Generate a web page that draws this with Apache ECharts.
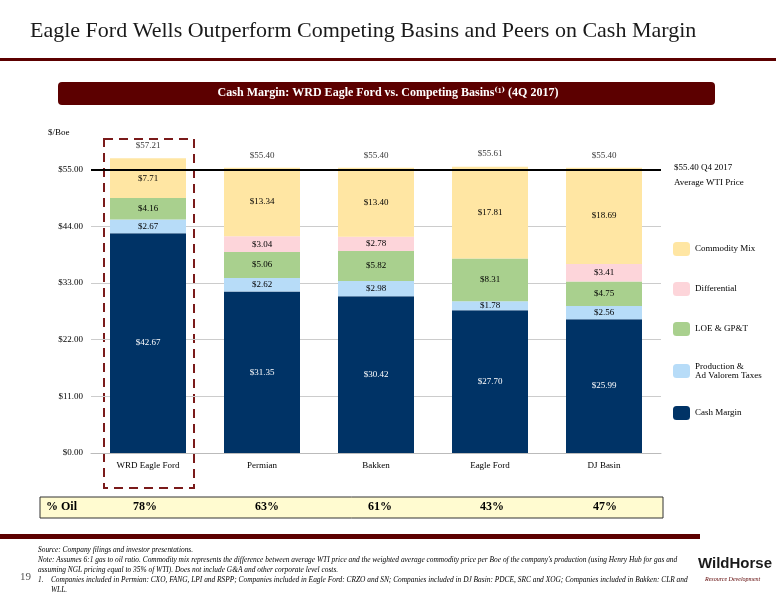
<!DOCTYPE html>
<html><head><meta charset="utf-8">
<script src="https://cdn.jsdelivr.net/npm/echarts@6/dist/echarts.min.js"></script>
<style>html,body{margin:0;background:#fff}#c{width:776px;height:600px}</style>
</head><body><div id="c"></div>
<script>
var categories = ['WRD Eagle Ford', 'Permian', 'Bakken', 'Eagle Ford', 'DJ Basin'];
var cashMargin = [42.67, 31.35, 30.42, 27.70, 25.99];
var prodTaxes = [2.67, 2.62, 2.98, 1.78, 2.56];
var loe = [4.16, 5.06, 5.82, 8.31, 4.75];
var differential = [0, 3.04, 2.78, 0, 3.41];
var commodityMix = [7.71, 13.34, 13.40, 17.81, 18.69];
var totals = [57.21, 55.40, 55.40, 55.61, 55.40];
var pctOil = ['78%', '63%', '61%', '43%', '47%'];
var wti = 55.0;

var serif = '"Liberation Serif", "DejaVu Serif", serif';
var chart = echarts.init(document.getElementById('c'));

function seg(name, data, color, txt) {
    return {
        name: name, type: 'bar', stack: 'a', data: data, barWidth: 76,
        itemStyle: {color: color},
        label: {
            show: true, position: 'inside', fontFamily: serif, fontSize: 9, color: txt,
            formatter: function (p) { return p.value ? '$' + p.value.toFixed(2) : ''; }
        }
    };
}

var oilTexts = pctOil.map(function (v, i) {
    return {type: 'text', left: [133, 255, 368, 480, 593][i], top: 501,
        style: {text: v, font: 'bold 12px ' + serif, fill: '#000'}};
});

var option = {
    animation: false,
    grid: {left: 91, right: 115, top: 144, bottom: 147},
    legend: {
        orient: 'vertical', left: 668, top: 237, itemWidth: 17, itemHeight: 14, itemGap: 26,
        textStyle: {fontFamily: serif, fontSize: 9, color: '#000'},
        data: ['Commodity Mix', 'Differential', 'LOE & GP&T', 'Production &\nAd Valorem Taxes', 'Cash Margin']
    },
    xAxis: {
        type: 'category', data: categories,
        axisLine: {lineStyle: {color: '#bbb'}}, axisTick: {show: false},
        axisLabel: {fontFamily: serif, fontSize: 9, color: '#000', margin: 8}
    },
    yAxis: {
        type: 'value', min: 0, max: 60, interval: 11,
        axisLabel: {fontFamily: serif, fontSize: 9, color: '#000', formatter: function (v) { return v > 55 ? '' : '$' + v.toFixed(2); }},
        splitLine: {showMaxLine: false, lineStyle: {color: '#ccc'}}
    },
    series: [
        seg('Cash Margin', cashMargin, '#003366', '#fff'),
        seg('Production &\nAd Valorem Taxes', prodTaxes, '#b7dcf8', '#000'),
        seg('LOE & GP&T', loe, '#a9d08e', '#000'),
        seg('Differential', differential, '#fdd5da', '#000'),
        {
            name: 'Commodity Mix', type: 'bar', stack: 'a', data: commodityMix, barWidth: 76,
            itemStyle: {color: '#ffe6a3'},
            label: {show: true, position: 'inside', fontFamily: serif, fontSize: 9, color: '#000',
                formatter: function (p) { return '$' + p.value.toFixed(2); }},
            markLine: {
                symbol: 'none', silent: true,
                lineStyle: {color: '#000', width: 2, type: 'solid'},
                label: {show: false},
                data: [{yAxis: wti}]
            }
        },
        {
            type: 'scatter', data: totals.map(function (v, i) { return [i, v]; }), symbolSize: 0,
            label: {show: true, position: 'top', distance: 8, fontFamily: serif, fontSize: 9, color: '#000',
                formatter: function (p) { return '$' + p.value[1].toFixed(2); }}
        }
    ],
    graphic: [
        {type: 'text', left: 30, top: 20, style: {text: 'Eagle Ford Wells Outperform Competing Basins and Peers on Cash Margin', font: '22px ' + serif, fill: '#1a1a1a'}},
        {type: 'rect', shape: {x: 0, y: 58, width: 776, height: 3}, style: {fill: '#5c0000'}},
        {type: 'rect', shape: {x: 58, y: 82, width: 657, height: 23, r: 4}, style: {fill: '#5c0000'}},
        {type: 'text', left: 'center', top: 87, style: {text: 'Cash Margin: WRD Eagle Ford vs. Competing Basins⁽¹⁾ (4Q 2017)', font: 'bold 12px ' + serif, fill: '#fff'}},
        {type: 'text', left: 48, top: 128, style: {text: '$/Boe', font: '9px ' + serif, fill: '#000'}},
        {type: 'text', left: 674, top: 160, style: {text: '$55.40 Q4 2017\nAverage WTI Price', font: '9px ' + serif, fill: '#000', lineHeight: 15}},
        {type: 'rect', shape: {x: 104, y: 139, width: 90, height: 349}, style: {fill: 'none', stroke: '#7a1a1a', lineWidth: 2, lineDash: [9, 6]}},
        {type: 'rect', shape: {x: 40, y: 497, width: 623, height: 21}, style: {fill: '#fffbd0', stroke: '#333', lineWidth: 1}},
        {type: 'text', left: 46, top: 501, style: {text: '% Oil', font: 'bold 12px ' + serif, fill: '#000'}},
        {type: 'rect', shape: {x: 0, y: 534, width: 700, height: 5}, style: {fill: '#5c0000'}},
        {type: 'text', left: 38, top: 545, style: {text: 'Source: Company filings and investor presentations.\nNote: Assumes 6:1 gas to oil ratio. Commodity mix represents the difference between average WTI price and the weighted average commodity price per Boe of the company\'s production (using Henry Hub for gas and\nassuming NGL pricing equal to 35% of WTI). Does not include G&A and other corporate level costs.\n1.    Companies included in Permian: CXO, FANG, LPI and RSPP; Companies included in Eagle Ford: CRZO and SN; Companies included in DJ Basin: PDCE, SRC and XOG; Companies included in Bakken: CLR and\n       WLL.', font: 'italic 7.4px ' + serif, fill: '#000', lineHeight: 10}},
        {type: 'text', left: 20, top: 572, style: {text: '19', font: '11px ' + serif, fill: '#555'}},
        {type: 'text', left: 698, top: 556, style: {text: 'WildHorse', font: 'bold 15px "Liberation Sans", sans-serif', fill: '#1a1a1a'}},
        {type: 'text', left: 705, top: 576, style: {text: 'Resource Development', font: 'italic 6px ' + serif, fill: '#5c0000'}}
    ].concat(oilTexts)
};
chart.setOption(option);
</script></body></html>
